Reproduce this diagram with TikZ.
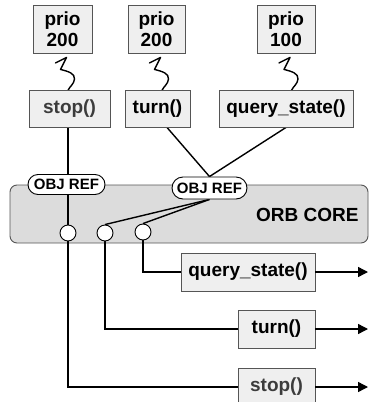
\documentclass[tikz,border=0pt]{standalone}
\usepackage{fontspec}
\setmainfont{Liberation Sans}
\usetikzlibrary{arrows.meta,shapes.misc}
\definecolor{boxfill}{HTML}{EFEFEF}
\definecolor{orbfill}{HTML}{DCDCDC}
\definecolor{boxline}{HTML}{555555}
\definecolor{greytext}{HTML}{3C3C3C}
\pgfdeclarelayer{bg}
\pgfdeclarelayer{lines}
\pgfsetlayers{bg,lines,main}
\tikzset{
  lbl/.style={font=\bfseries\fontsize{19}{21}\selectfont},
  opbox/.style={lbl, draw=boxline, line width=0.9pt, fill=boxfill, inner sep=0pt, minimum height=37pt},
  priobox/.style={opbox, align=center, minimum height=48pt, font=\bfseries\fontsize{19}{21}\selectfont},
  objref/.style={rounded rectangle, draw=black, line width=0.9pt, fill=white, inner sep=0pt,
    font=\bfseries\fontsize{15}{16}\selectfont},
  port/.style={circle, draw=black, line width=0.9pt, fill=white, minimum size=16pt, inner sep=0pt},
  conn/.style={line width=1.4pt, black},
  outarrow/.style={conn, -{Triangle[length=10pt,width=10pt]}},
  threadline/.style={line width=1.4pt, line cap=round, line join=round}
}
\begin{document}
\begin{tikzpicture}[x=1pt,y=-1pt]
\useasboundingbox (0,0) rectangle (369,402);
\clip (0,0) rectangle (369,402);

% priority boxes
\node[priobox, minimum width=59pt] (p1) at (62.5,29) {prio\\200};
\node[priobox, minimum width=57pt] (p2) at (156.5,29) {prio\\200};
\node[priobox, minimum width=58pt] (p3) at (286,29) {prio\\100};

% threads (each named anchor point of the squiggle given explicitly)
\foreach \b in {p1,p2,p3}{
  \draw[threadline]
    ([shift={(-7,9.5)}]\b.south) -- ([shift={(4,4)}]\b.south) -- ([shift={(-2,16)}]\b.south)
    .. controls ([shift={(6,18)}]\b.south) and ([shift={(12.5,20)}]\b.south) .. ([shift={(12,25.5)}]\b.south)
    .. controls ([shift={(11.5,31)}]\b.south) and ([shift={(7,33)}]\b.south) .. ([shift={(5.5,37)}]\b.south);
}

% client operations
\node[opbox, minimum width=81pt, text=greytext] (s1) at (69.5,108.5) {stop()};
\node[opbox, minimum width=65pt] (t1) at (157.5,108.5) {turn()};
\node[opbox, minimum width=134pt] (q1) at (286,108.5) {query\_state()};

% ORB core
\begin{pgfonlayer}{bg}
\node[draw=boxline, line width=0.9pt, fill=orbfill, rounded corners=7pt,
      minimum width=358pt, minimum height=58pt, inner sep=0pt] (orb) at (189,214) {};
\end{pgfonlayer}
\node[lbl, anchor=east] (orbtxt) at (362,215) {ORB CORE};

% object references
\node[objref, minimum width=77pt, minimum height=20pt] (r1) at (66.5,184.5) {OBJ REF};
\node[objref, minimum width=75pt, minimum height=22pt] (r2) at (209.5,188) {OBJ REF};

% ports
\node[port] (c1) at (68,233) {};
\node[port] (c2) at (105,233) {};
\node[port] (c3) at (143,232) {};

% server side operations
\node[opbox, minimum width=134pt, minimum height=38pt] (q2) at (248,272) {query\_state()};
\node[opbox, minimum width=77pt, minimum height=38pt] (t2) at (276.5,329) {turn()};
\node[opbox, minimum width=77pt, minimum height=38pt, text=greytext] (s2) at (276.5,387) {stop()};

\coordinate (eq) at (368,272);
\coordinate (et) at (368,329);
\coordinate (es) at (368,387);

\begin{pgfonlayer}{lines}
\draw[conn] (c1.north) -- (c1.north |- s1.south);
\draw[conn] ([xshift=9.5pt]t1.south) -- (r2.north);
\draw[conn] (q1.south) -- (r2.north);
\draw[conn] (r2.south) -- (c2.north);
\draw[conn] (r2.south) -- (c3.north);
\draw[conn] (c1.south) |- (s2.west);
\draw[conn] (c2.south) |- (t2.west);
\draw[conn] (c3.south) |- (q2.west);
\end{pgfonlayer}
\draw[outarrow] (q2.east) -- (eq);
\draw[outarrow] (t2.east) -- (et);
\draw[outarrow] (s2.east) -- (es);
\end{tikzpicture}
\end{document}
